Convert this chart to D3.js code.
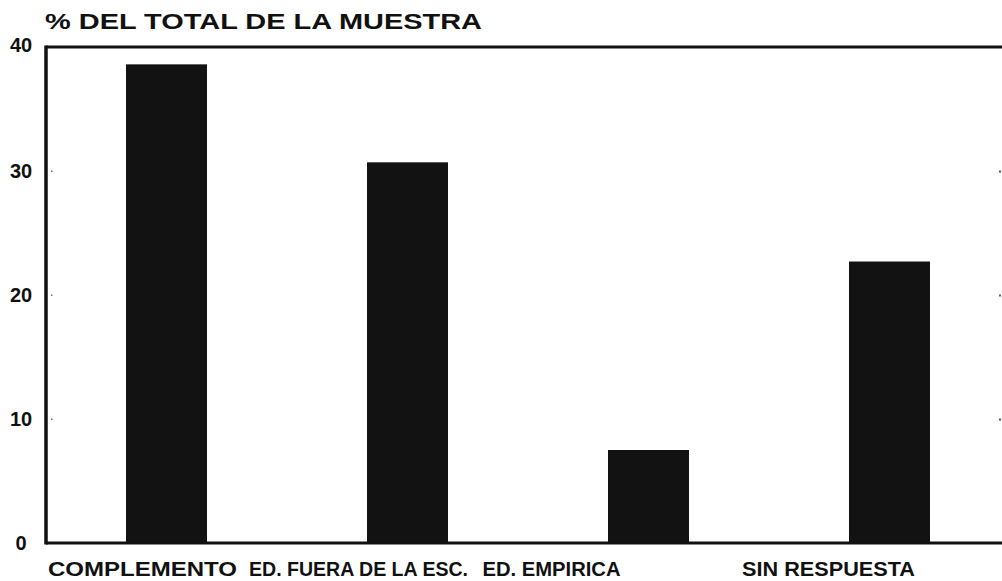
<!DOCTYPE html>
<html>
<head>
<meta charset="utf-8">
<script src="https://cdn.jsdelivr.net/npm/d3@7"></script>
<style>
  html, body { margin: 0; padding: 0; background: #fff; }
  svg { display: block; }
  text { font-family: "Liberation Sans", Arial, sans-serif; font-weight: bold; fill: #111; }
</style>
</head>
<body>
<div id="chart"></div>
<script>
// datos
const categories = ["COMPLEMENTO", "ED. FUERA DE LA ESC.", "ED. EMPIRICA", "SIN RESPUESTA"];
const values = [38.6, 30.7, 7.5, 22.7];
const yTicks = [0, 10, 20, 30, 40];
const titleText = "% DEL TOTAL DE LA MUESTRA";

// desplazamiento y ancho de las etiquetas (tipografia ancha del original)
const labelShift = [-24, -49, -97, -61];
const labelWidth = [189, 219, 138, 173];

const width = 1002, height = 581;
const svg = d3.select("#chart").append("svg")
    .attr("width", width)
    .attr("height", height);

// escalas
const x = d3.scaleBand()
    .domain(categories)
    .range([46, 1010])
    .paddingInner(0.664)
    .paddingOuter(0.332);

const y = d3.scaleLinear()
    .domain([0, 40])
    .range([543, 47]);

// barras
svg.selectAll(".bar")
    .data(values)
    .enter()
    .append("rect")
    .attr("class", "bar")
    .attr("x", (d, i) => x(categories[i]))
    .attr("y", d => y(d))
    .attr("width", x.bandwidth())
    .attr("height", d => y(0) - y(d))
    .attr("fill", "#121212");

// ejes (marco izquierdo, superior e inferior)
svg.append("line")
    .attr("x1", 46).attr("x2", 46)
    .attr("y1", y(40) - 1.5).attr("y2", y(0) + 1.5)
    .attr("stroke", "#111").attr("stroke-width", 3.5);
svg.append("line")
    .attr("x1", 46).attr("x2", width)
    .attr("y1", y(40)).attr("y2", y(40))
    .attr("stroke", "#111").attr("stroke-width", 3);
svg.append("line")
    .attr("x1", 46).attr("x2", width)
    .attr("y1", y(0)).attr("y2", y(0))
    .attr("stroke", "#111").attr("stroke-width", 3);

// pequeñas marcas en los bordes
const inner = yTicks.filter(t => t > 0 && t < 40);
svg.selectAll(".tickL")
    .data(inner)
    .enter()
    .append("rect")
    .attr("x", 51).attr("y", d => y(d) - 0.5)
    .attr("width", 1.5).attr("height", 1.5)
    .attr("fill", "#777");
svg.selectAll(".tickR")
    .data(inner)
    .enter()
    .append("rect")
    .attr("x", 999).attr("y", d => y(d) - 0.5)
    .attr("width", 2).attr("height", 2)
    .attr("fill", "#555");

// etiquetas del eje y
svg.selectAll(".ylab")
    .data(yTicks)
    .enter()
    .append("text")
    .attr("x", 21)
    .attr("y", d => y(d) + (d === 40 ? -2 : 0))
    .attr("dy", "0.35em")
    .attr("text-anchor", "middle")
    .style("font-size", "20px")
    .text(d => d);

// etiquetas de categorias
svg.selectAll(".xlab")
    .data(categories)
    .enter()
    .append("text")
    .attr("x", (d, i) => x(d) + x.bandwidth() / 2 + labelShift[i])
    .attr("y", 576)
    .attr("text-anchor", "middle")
    .attr("textLength", (d, i) => labelWidth[i])
    .attr("lengthAdjust", "spacingAndGlyphs")
    .style("font-size", "20px")
    .text(d => d);

// titulo
svg.append("text")
    .attr("x", 45)
    .attr("y", 29)
    .attr("textLength", 437)
    .attr("lengthAdjust", "spacingAndGlyphs")
    .style("font-size", "22px")
    .text(titleText);
</script>
</body>
</html>
